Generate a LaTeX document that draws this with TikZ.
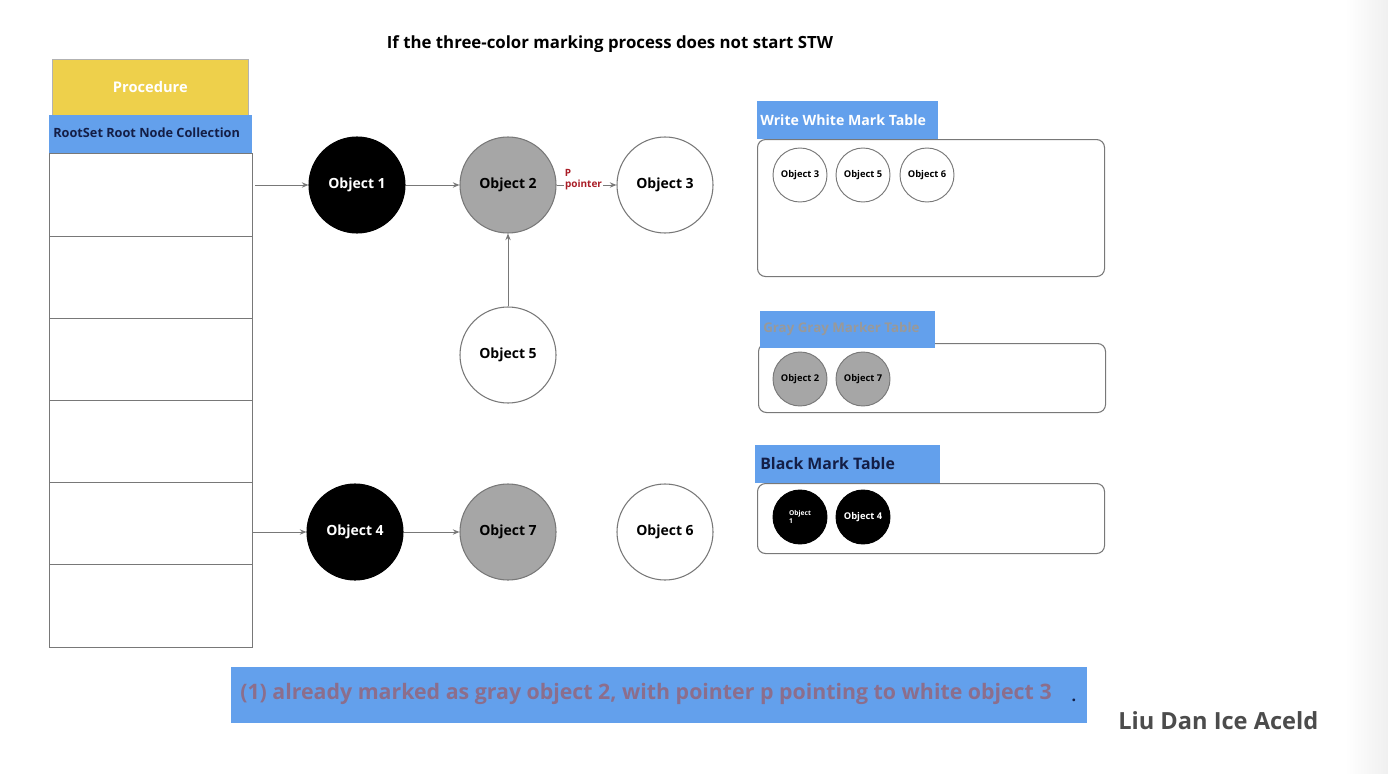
\documentclass[tikz,border=0pt]{standalone}
\usepackage{fontspec}
\setmainfont{Open Sans}
\usetikzlibrary{arrows.meta}
\definecolor{hblue}{RGB}{99,160,236}
\definecolor{hyellow}{RGB}{238,208,75}
\definecolor{ogray}{RGB}{166,166,166}
\definecolor{navy}{RGB}{20,30,70}
\definecolor{mauve}{RGB}{140,110,140}
\definecolor{pred}{RGB}{170,30,40}
\definecolor{edge}{RGB}{120,120,120}
\tikzset{
  obj/.style={circle,minimum size=96*0.75pt,inner sep=0pt,draw=edge,line width=0.8pt,font=\bfseries\fontsize{10.5}{12}\selectfont},
  wobj/.style={obj,fill=white,text=black},
  gobj/.style={obj,fill=ogray,text=black},
  bobj/.style={obj,fill=black,draw=black,text=white},
  sobj/.style={circle,minimum size=54*0.75pt,inner sep=0pt,draw=edge,line width=0.7pt,font=\bfseries\fontsize{7}{7.5}\selectfont},
  conn/.style={draw=edge,line width=0.7pt,-{Stealth[length=5pt,width=4pt]}},
  tablebox/.style={draw=edge,line width=0.8pt,rounded corners=6pt},
  hdr/.style={fill=hblue,inner sep=0pt,anchor=north west},
  hdrtext/.style={anchor=west,inner sep=0pt,font=\bfseries\fontsize{10.6}{12}\selectfont},
  row/.style={draw=edge,line width=0.6pt,fill=white},
}
\begin{document}
\begin{tikzpicture}[x=0.75pt,y=-0.75pt]
\useasboundingbox (0,0) rectangle (1388,774);
\fill[white] (0,0) rectangle (1388,774);
\shade[left color=white,right color=black!6] (1345,0) rectangle (1388,774);
% title
\node[font=\bfseries\fontsize{12.6}{14}\selectfont] (title) at (610,44) {If the three-color marking process does not start STW};
% procedure
\node[fill=hyellow,draw=black!30,line width=0.5pt,minimum width=196*0.75pt,minimum height=56*0.75pt,inner sep=0pt,anchor=north west,text=white,font=\bfseries\fontsize{11}{12}\selectfont] (proc) at (52,59) {Procedure};
\node[fill=hblue,minimum width=203*0.75pt,minimum height=38*0.75pt,inner sep=0pt,anchor=north west] (rootset) at (49,115) {};
\node[hdrtext,text=navy,font=\bfseries\fontsize{9.55}{10}\selectfont] (rootsett) at (53,133) {RootSet Root Node Collection};
% rows
\foreach \i/\ya/\yb in {1/153/236,2/236/318,3/318/400,4/400/482,5/482/564,6/564/647}{
  \node[row,minimum width=203*0.75pt,minimum height={(\yb-\ya)*0.75pt},inner sep=0pt,anchor=north west] (r\i) at (49,\ya) {};
}
% objects
\node[bobj] (o1) at (357,185) {Object 1};
\node[gobj] (o2) at (508,185) {Object 2};
\node[wobj] (o3) at (665,185) {Object 3};
\node[wobj] (o5) at (508,355) {Object 5};
\node[bobj] (o4) at (355,532) {Object 4};
\node[gobj] (o7) at (508,532) {Object 7};
\node[wobj] (o6) at (665,532) {Object 6};
% connectors
\coordinate (s1) at (255,185);
\coordinate (s4) at (252,532);
\draw[conn] (s1) -- (o1);
\draw[conn] (o1) -- (o2);
\draw[conn] (o2) -- node[pos=0.45,fill=white,inner sep=1pt,text=pred,font=\bfseries\fontsize{7.5}{8}\selectfont] (plbl) {pointer} (o3);
\node[anchor=south west,inner sep=0pt,text=pred,font=\bfseries\fontsize{7.5}{8}\selectfont] (plblp) at ([xshift=1pt,yshift=1pt]plbl.north west) {P};
\draw[conn] (o5) -- (o2);
\draw[conn] (s4) -- (o4);
\draw[conn] (o4) -- (o7);
% white table
\node[tablebox,minimum width=347*0.75pt,minimum height=137*0.75pt,anchor=north west] (wt) at (757,139) {};
\node[hdr,minimum width=181*0.75pt,minimum height=38*0.75pt] (wth) at (757,101) {};
\node[hdrtext,text=white] (wtht) at (760,120) {Write White Mark Table};
\node[sobj,fill=white] (w3) at (800,175) {Object 3};
\node[sobj,fill=white] (w5) at (863,175) {Object 5};
\node[sobj,fill=white] (w6) at (927,175) {Object 6};
% gray table
\node[tablebox,minimum width=347*0.75pt,minimum height=69*0.75pt,anchor=north west] (gt) at (758,343) {};
\node[hdr,minimum width=175*0.75pt,minimum height=37*0.75pt] (gth) at (760,311) {};
\node[hdrtext,text=black!40,font=\bfseries\fontsize{10}{12}\selectfont] (gtht) at (763,329) {Gray Gray Marker Table};
\node[sobj,fill=ogray] (g2) at (800,379) {Object 2};
\node[sobj,fill=ogray] (g7) at (863,379) {Object 7};
% black table
\node[tablebox,minimum width=347*0.75pt,minimum height=70*0.75pt,anchor=north west] (bt) at (757,483) {};
\node[hdr,minimum width=185*0.75pt,minimum height=38*0.75pt] (bth) at (755,445) {};
\node[hdrtext,text=navy,font=\bfseries\fontsize{11.9}{13}\selectfont] (btht) at (760,464) {Black Mark Table};
\node[sobj,fill=black,draw=black,text=white,align=left,font=\bfseries\fontsize{5}{5.5}\selectfont] (b1) at (800,517) {Object\\1};
\node[sobj,fill=black,draw=black,text=white] (b4) at (863,517) {Object 4};
% banner
\node[fill=hblue,minimum width=856*0.75pt,minimum height=56*0.75pt,inner sep=0pt,anchor=north west] (banner) at (231,667) {};
\node[anchor=west,inner sep=0pt,text=mauve,font=\bfseries\fontsize{16}{18}\selectfont] (btext) at (240,694) {(1) already marked as gray object 2, with pointer p pointing to white object 3};
\node[font=\bfseries\fontsize{12}{14}\selectfont,text=navy] (dot) at (1074,700) {.};
\node[anchor=west,inner sep=0pt,text=black!70,font=\bfseries\fontsize{17.7}{20}\selectfont] (author) at (1118,721) {Liu Dan Ice Aceld};
\end{tikzpicture}
\end{document}
